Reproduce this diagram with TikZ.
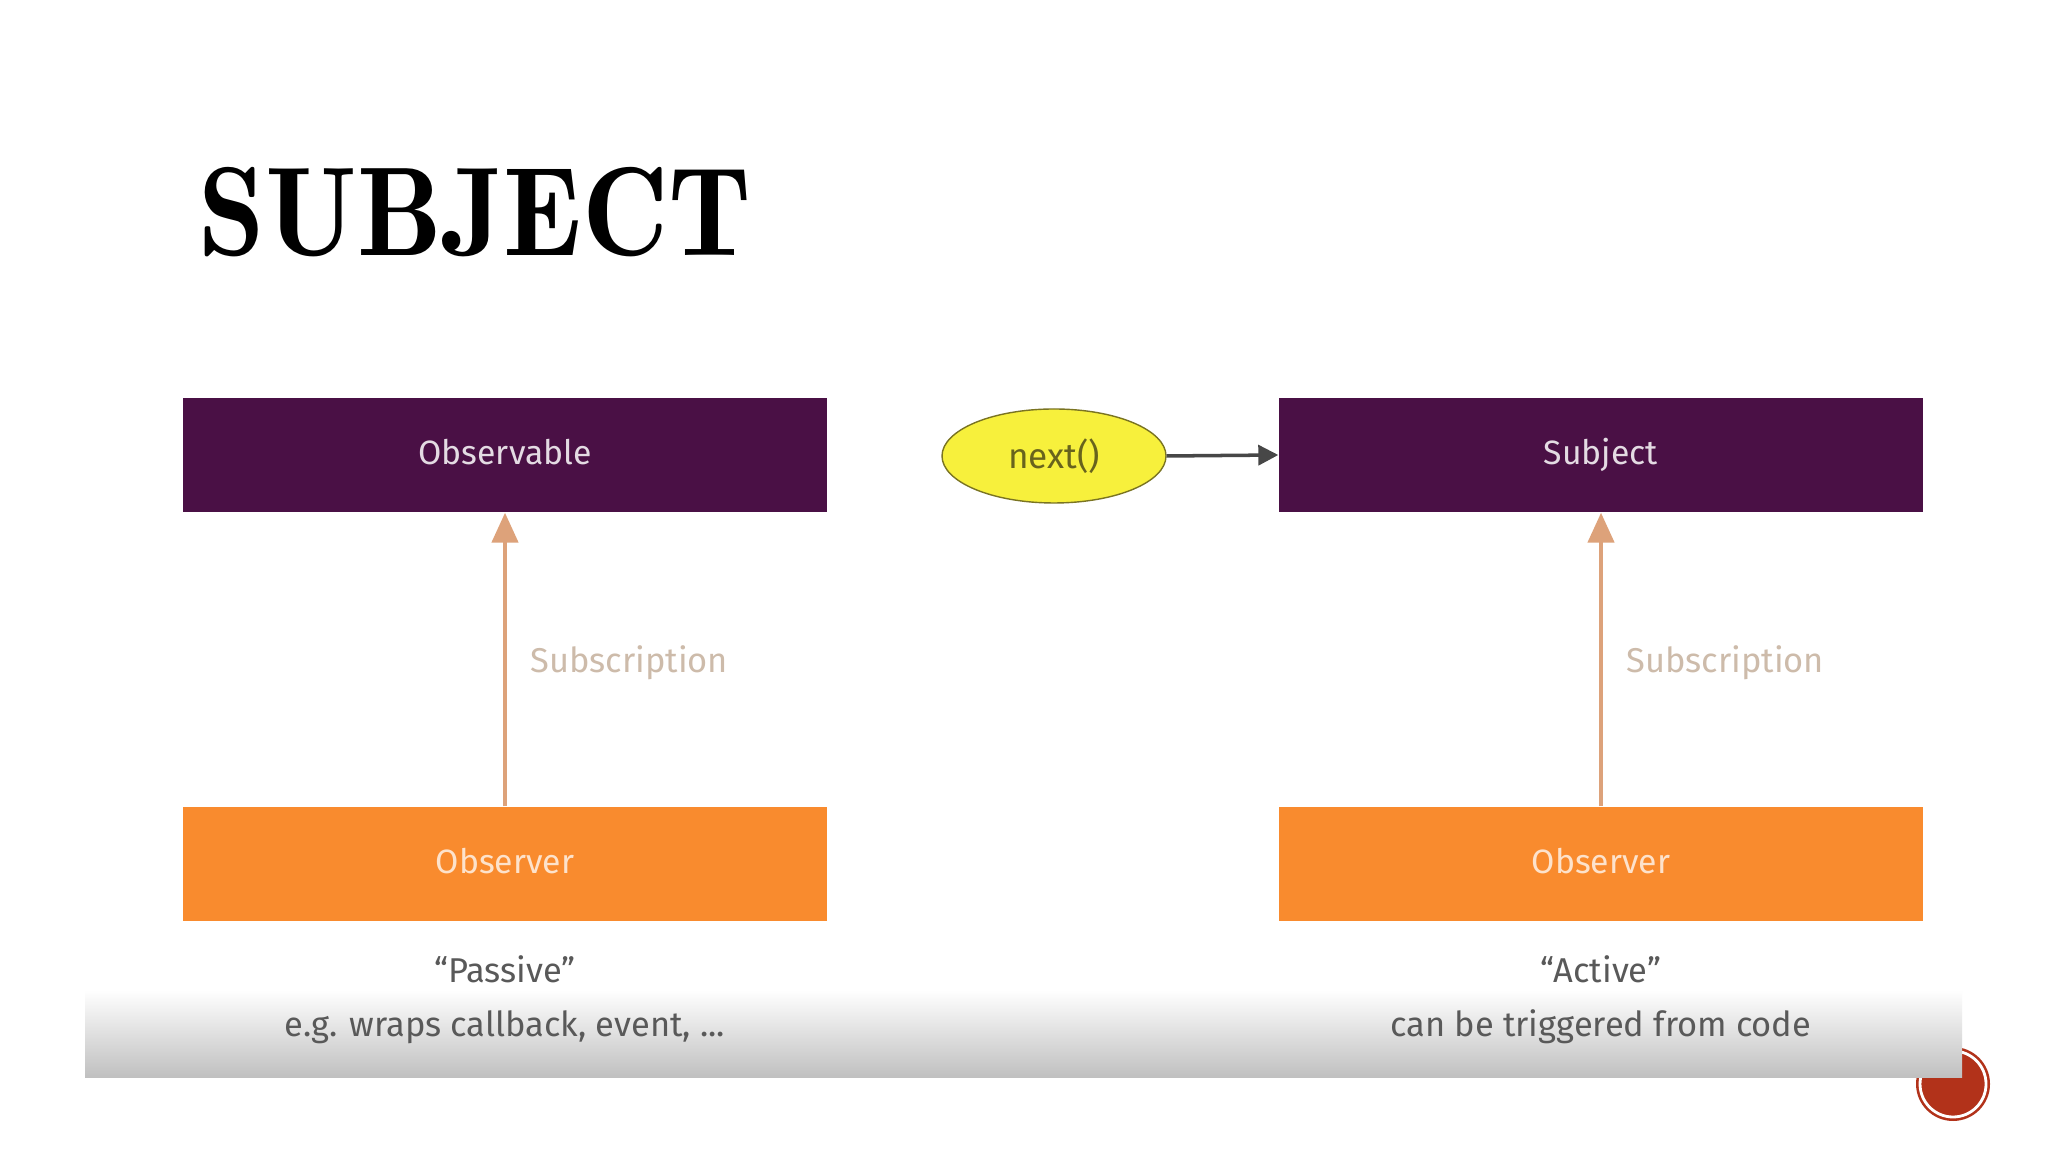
\documentclass[tikz,border=0pt]{standalone}
\usepackage{fontspec}
\setsansfont{Fira Sans}
\newfontfamily\titlefont{lmromandemi10-regular.otf}
\usetikzlibrary{arrows.meta,shapes.geometric}
\definecolor{plum}{HTML}{4A1045}
\definecolor{tangerine}{HTML}{F98B2E}
\definecolor{subline}{HTML}{DDA27A}
\definecolor{subtext}{HTML}{CDBBAA}
\definecolor{lemon}{HTML}{F7F03C}
\definecolor{olive}{HTML}{7A7422}
\definecolor{slide}{HTML}{B2321A}
\begin{document}
\begin{tikzpicture}[x=0.1mm,y=-0.1mm,
    box/.style={rectangle,minimum width=64.4mm,minimum height=11.4mm,inner sep=0pt,
      text height=1.6ex,text depth=.3ex,font=\sffamily\fontsize{9.6}{11}\selectfont},
    srcbox/.style={box,fill=plum,text=white!85!plum},
    obsbox/.style={box,fill=tangerine,text=white!75!tangerine},
    subarrow/.style={subline,line width=1.3pt,-{Triangle[length=3mm,width=2.6mm]}},
    sublabel/.style={text=subtext,anchor=west,font=\sffamily\fontsize{9.8}{11}\selectfont},
    note/.style={text=black!65,font=\sffamily\fontsize{9.8}{11}\selectfont}]
  \useasboundingbox[fill=white] (0,0) rectangle (2048,1152);
  % title
  \node[anchor=west,inner sep=0pt,font=\titlefont\fontsize{36}{40}\selectfont] (title) at (198,212) {\scalebox{0.945}[1]{SUBJECT}};
  % left: observable
  \node[srcbox] (obsv) at (505,455) {Observable};
  \node[obsbox] (obsr1) at (505,864) {Observer};
  \draw[subarrow] (obsr1.north) -- (obsv.south);
  \node[sublabel] (sub1) at (518,663) {Subscription};
  % right: subject
  \node[srcbox] (subj) at (1601,455) {Subject};
  \node[obsbox] (obsr2) at (1601,864) {Observer};
  \draw[subarrow] (obsr2.north) -- (subj.south);
  \node[sublabel] (sub2) at (1614,663) {Subscription};
  \node[ellipse,draw=olive,fill=lemon,minimum width=22.4mm,minimum height=9.4mm,inner sep=0pt,
    text=olive!85!black,font=\sffamily\fontsize{10}{12}\selectfont] (next) at (1054,456) {next()};
  \draw[black!72,line width=1pt,-{Triangle[length=2mm,width=2mm]}] (next.east) -- (subj.west);
  % slide corner badge, half hidden by the band
  \fill[slide] (1953,1084) circle (37);
  \draw[white,line width=0.8pt] (1953,1084) circle (33);
  \shade[top color=white,bottom color=black!25] (85,990) rectangle (1962,1078);
  % captions
  \node[note] (pas) at (505,969) {“Passive”};
  \node[note] (pasnote) at (505,1027) {e.g. wraps callback, event, ...};
  \node[note] (act) at (1601,969) {“Active”};
  \node[note] (actnote) at (1601,1027) {can be triggered from code};
\end{tikzpicture}
\end{document}
